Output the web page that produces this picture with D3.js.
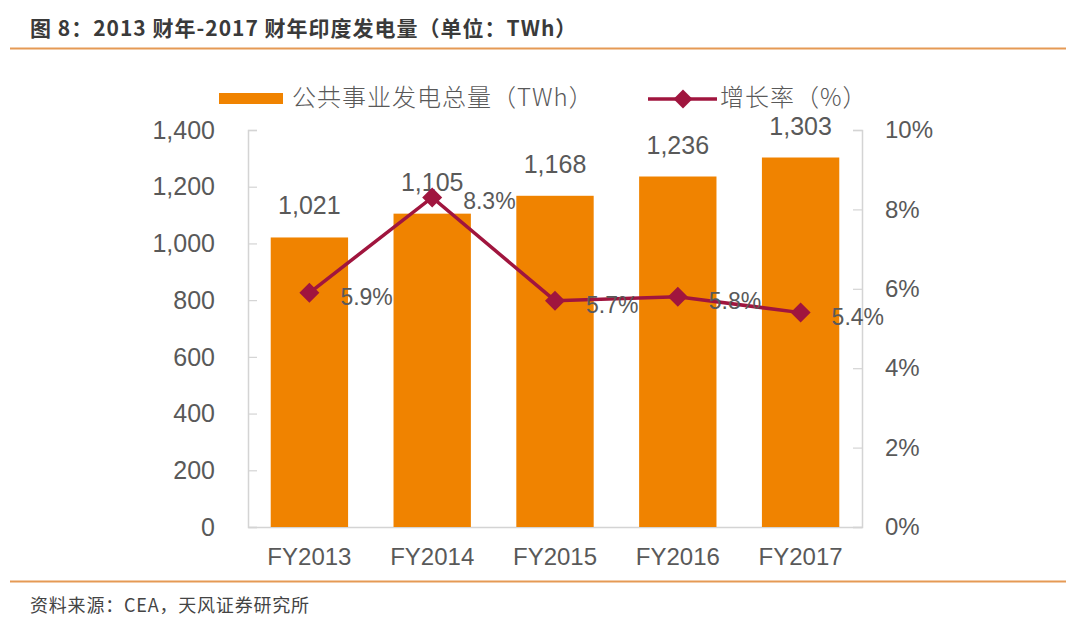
<!DOCTYPE html>
<html><head><meta charset="utf-8">
<script src="https://cdn.jsdelivr.net/npm/d3@7"></script>
<style>body{margin:0;background:#fff}svg{display:block}</style>
</head><body>
<svg id="c" width="1080" height="626"></svg>
<script>
const categories = ["FY2013","FY2014","FY2015","FY2016","FY2017"];
const generation = [1021,1105,1168,1236,1303];
const growth = [5.9,8.3,5.7,5.8,5.4];
const leftTicks = [0,200,400,600,800,1000,1200,1400];
const rightTicks = [0,2,4,6,8,10];
const titleText = "图 8：2013 财年-2017 财年印度发电量（单位：TWh）";
const sourceText = "资料来源：CEA，天风证券研究所";
const legendBar = "公共事业发电总量（TWh）";
const legendLine = "增长率（%）";

const svg = d3.select("#c");
const font = "'Liberation Sans', Arial, 'Noto Sans CJK SC', sans-serif";
const cjk = "'Noto Sans CJK SC', sans-serif";
const gray = "#595959";
const orange = "#f08300";
const red = "#a0153e";
const L = 248, R = 862, T = 130, B = 527;

const x = d3.scaleBand().domain(categories).range([L, R]).paddingInner(0.37).paddingOuter(0.185);
const y = d3.scaleLinear().domain([0,1400]).range([B, T]);
const y2 = d3.scaleLinear().domain([0,10]).range([B, T]);

// title
svg.append("text").attr("x",30).attr("y",36).attr("font-family",cjk).attr("font-weight","bold")
  .attr("font-size",21).attr("letter-spacing",1).attr("fill","#3a3a3a").text(titleText);
svg.append("line").attr("x1",10).attr("x2",1066).attr("y1",48.5).attr("y2",48.5).attr("stroke","#e59a55").attr("stroke-width",2);
svg.append("line").attr("x1",10).attr("x2",1066).attr("y1",581.5).attr("y2",581.5).attr("stroke","#e59a55").attr("stroke-width",2);
svg.append("text").attr("x",30).attr("y",612).attr("font-family",cjk)
  .attr("font-size",18).attr("letter-spacing",0.8).attr("fill","#444").text(sourceText);

// axes
const axL = svg.append("g").attr("transform",`translate(${L},0)`)
  .call(d3.axisLeft(y).tickValues(leftTicks).tickSize(-9).tickPadding(33).tickFormat(d3.format(",")));
const axR = svg.append("g").attr("transform",`translate(${R},0)`)
  .call(d3.axisRight(y2).tickValues(rightTicks).tickSize(-9).tickPadding(23).tickFormat(d => d + "%"));
[axL, axR].forEach(a => {
  a.select(".domain").attr("stroke","#d4d4d4").attr("stroke-width",1.5);
  a.selectAll(".tick line").attr("stroke","#d4d4d4").attr("stroke-width",1.2);
  a.selectAll(".tick text").attr("font-family",font).attr("font-size",25).attr("fill",gray);
});
axL.selectAll(".tick text").attr("dy","0.33em");
axR.selectAll(".tick text").attr("font-size",24);
const axB = svg.append("g").attr("transform",`translate(0,${B})`)
  .call(d3.axisBottom(x).tickSize(0).tickPadding(21));
axB.select(".domain").attr("stroke","#d4d4d4").attr("stroke-width",1.5);
axB.selectAll(".tick text").attr("font-family",font).attr("font-size",24).attr("fill",gray).attr("dy","0.71em");

// bars
svg.append("g").selectAll("rect").data(categories).join("rect")
  .attr("x", d => x(d)).attr("width", x.bandwidth())
  .attr("y", (d,i) => y(generation[i])).attr("height", (d,i) => B - y(generation[i]))
  .attr("fill", orange);
svg.append("g").selectAll("text").data(categories).join("text")
  .attr("x", d => x(d) + x.bandwidth()/2).attr("y", (d,i) => y(generation[i]) - 23)
  .attr("text-anchor","middle").attr("font-family",font).attr("font-size",25).attr("fill",gray)
  .text((d,i) => d3.format(",")(generation[i]));

// line
const cx = d => x(d) + x.bandwidth()/2;
const diamond = d3.symbol(d3.symbolSquare, 200);
svg.append("path").datum(categories)
  .attr("d", d3.line().x(d => cx(d)).y((d,i) => y2(growth[i])))
  .attr("fill","none").attr("stroke",red).attr("stroke-width",3.5);
svg.append("g").selectAll("path").data(categories).join("path")
  .attr("transform",(d,i) => `translate(${cx(d)},${y2(growth[i])}) rotate(45)`)
  .attr("d", diamond).attr("fill",red);
svg.append("g").selectAll("text").data(categories).join("text")
  .attr("x", d => cx(d) + 31).attr("y", (d,i) => y2(growth[i]) + 12)
  .attr("font-family",font).attr("font-size",23).attr("fill",gray)
  .text((d,i) => growth[i].toFixed(1) + "%");

// legend
svg.append("rect").attr("x",219).attr("y",93).attr("width",64).attr("height",11).attr("fill",orange);
svg.append("text").attr("x",292).attr("y",106).attr("font-family",cjk).attr("font-size",24).attr("font-weight",300)
  .attr("letter-spacing",1).attr("fill",gray).text(legendBar);
svg.append("line").attr("x1",648).attr("x2",717).attr("y1",99).attr("y2",99).attr("stroke",red).attr("stroke-width",3.5);
svg.append("path").attr("transform","translate(683,99) rotate(45)").attr("d", d3.symbol(d3.symbolSquare, 180)).attr("fill",red);
svg.append("text").attr("x",720).attr("y",106).attr("font-family",cjk).attr("font-size",24).attr("font-weight",300)
  .attr("letter-spacing",1).attr("fill",gray).text(legendLine);
</script>
</body></html>
